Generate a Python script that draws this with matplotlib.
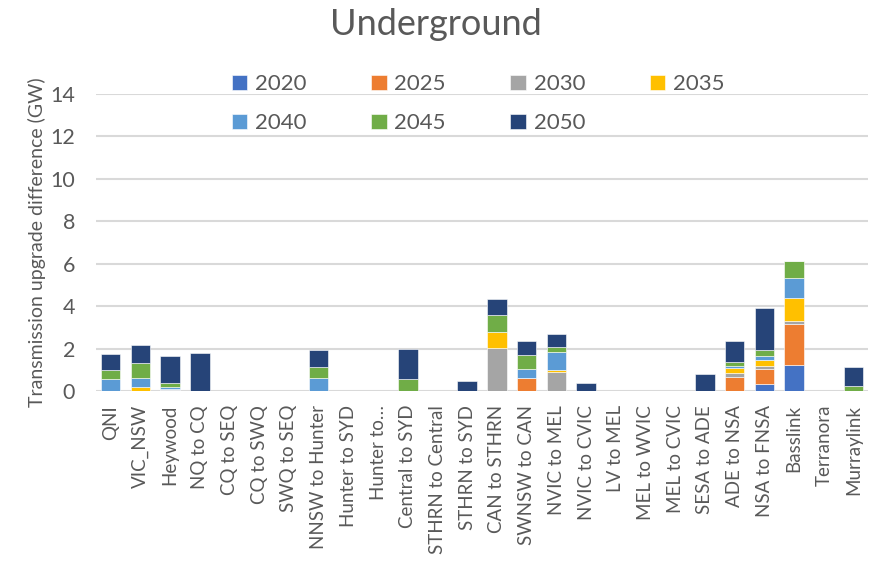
import matplotlib.pyplot as plt
import numpy as np

plt.rcParams['font.family'] = ['Lato', 'DejaVu Sans']

links = ['QNI', 'VIC_NSW', 'Heywood', 'NQ to CQ', 'CQ to SEQ', 'CQ to SWQ',
         'SWQ to SEQ', 'NNSW to Hunter', 'Hunter to SYD', 'Hunter to…',
         'Central to SYD', 'STHRN to Central', 'STHRN to SYD', 'CAN to STHRN',
         'SWNSW to CAN', 'NVIC to MEL', 'NVIC to CVIC', 'LV to MEL',
         'MEL to WVIC', 'MEL to CVIC', 'SESA to ADE', 'ADE to NSA',
         'NSA to FNSA', 'Basslink', 'Terranora', 'Murraylink']

years = ['2020', '2025', '2030', '2035', '2040', '2045', '2050']

gw_2020 = [0, 0, 0.05, 0, 0, 0, 0, 0, 0, 0, 0, 0, 0, 0, 0, 0, 0, 0, 0, 0,
           0, 0, 0.32, 1.23, 0, 0]
gw_2025 = [0, 0, 0, 0, 0, 0, 0, 0, 0, 0, 0, 0, 0, 0, 0.6, 0, 0, 0, 0, 0,
           0, 0.68, 0.71, 1.93, 0, 0]
gw_2030 = [0, 0, 0.05, 0, 0, 0, 0, 0, 0, 0, 0, 0, 0, 2.02, 0, 0.88, 0, 0, 0, 0,
           0, 0.19, 0.16, 0.13, 0, 0]
gw_2035 = [0, 0.19, 0, 0, 0, 0, 0, 0, 0, 0, 0, 0, 0, 0.76, 0, 0.1, 0, 0, 0, 0,
           0, 0.24, 0.28, 1.09, 0, 0]
gw_2040 = [0.55, 0.44, 0.1, 0, 0, 0, 0, 0.6, 0, 0, 0, 0, 0, 0, 0.43, 0.88, 0, 0, 0, 0,
           0, 0.08, 0.16, 0.95, 0, 0]
gw_2045 = [0.43, 0.71, 0.19, 0, 0, 0, 0, 0.54, 0, 0, 0.55, 0, 0, 0.82, 0.66, 0.2, 0, 0, 0, 0,
           0, 0.19, 0.3, 0.81, 0, 0.24]
gw_2050 = [0.76, 0.82, 1.26, 1.81, 0, 0, 0, 0.79, 0, 0, 1.45, 0, 0.47, 0.76, 0.66, 0.63, 0.38, 0, 0, 0,
           0.79, 0.96, 1.99, 0, 0, 0.91]

series = [gw_2020, gw_2025, gw_2030, gw_2035, gw_2040, gw_2045, gw_2050]
colors = ['#4472C4', '#ED7D31', '#A5A5A5', '#FFC000', '#5B9BD5', '#70AD47', '#264478']
grey = '#595959'

fig = plt.figure(figsize=(8.71, 5.76), dpi=100)
ax = fig.add_axes([0.110, 0.321, 0.887, 0.516])

x = np.arange(len(links))
bottom = np.zeros(len(links))
handles = []
for yr, vals, c in zip(years, series, colors):
    vals = np.array(vals)
    b = ax.bar(x, vals, 0.66, bottom=bottom, color=c, edgecolor='white',
               linewidth=0.4, label=yr, zorder=3)
    handles.append(b)
    bottom += vals

ax.set_ylim(0, 14)
ax.set_xlim(-0.5, len(links) - 0.5)
ax.set_yticks(range(0, 15, 2))
ax.yaxis.grid(True, color='#D9D9D9', linewidth=1.5, zorder=0)
ax.set_axisbelow(True)
for s in ['top', 'right', 'left', 'bottom']:
    ax.spines[s].set_visible(False)
ax.tick_params(axis='y', length=0, labelsize=15.5, colors=grey, pad=15)
ax.tick_params(axis='x', length=0, labelsize=13.5, colors=grey, pad=10)
ax.set_xticks(x)
ax.set_xticklabels(links, rotation=90)
ax.set_ylabel('Transmission upgrade difference (GW)', fontsize=14, color=grey, labelpad=3)

fig.text(0.5, 0.958, 'Underground', fontsize=26, color=grey, ha='center', va='center')

# legend fills column by column, so order handles to read row by row
order = [0, 4, 1, 5, 2, 6, 3]
fig.legend(handles=[handles[i] for i in order], labels=[years[i] for i in order],
           ncol=4, frameon=False, loc='upper left', bbox_to_anchor=(0.266, 0.871),
           borderpad=0, borderaxespad=0,
           fontsize=16, labelcolor=grey, handlelength=0.7, handleheight=0.7,
           handletextpad=0.35, columnspacing=2.9, labelspacing=0.85)

fig.savefig('out.png', dpi=100)
